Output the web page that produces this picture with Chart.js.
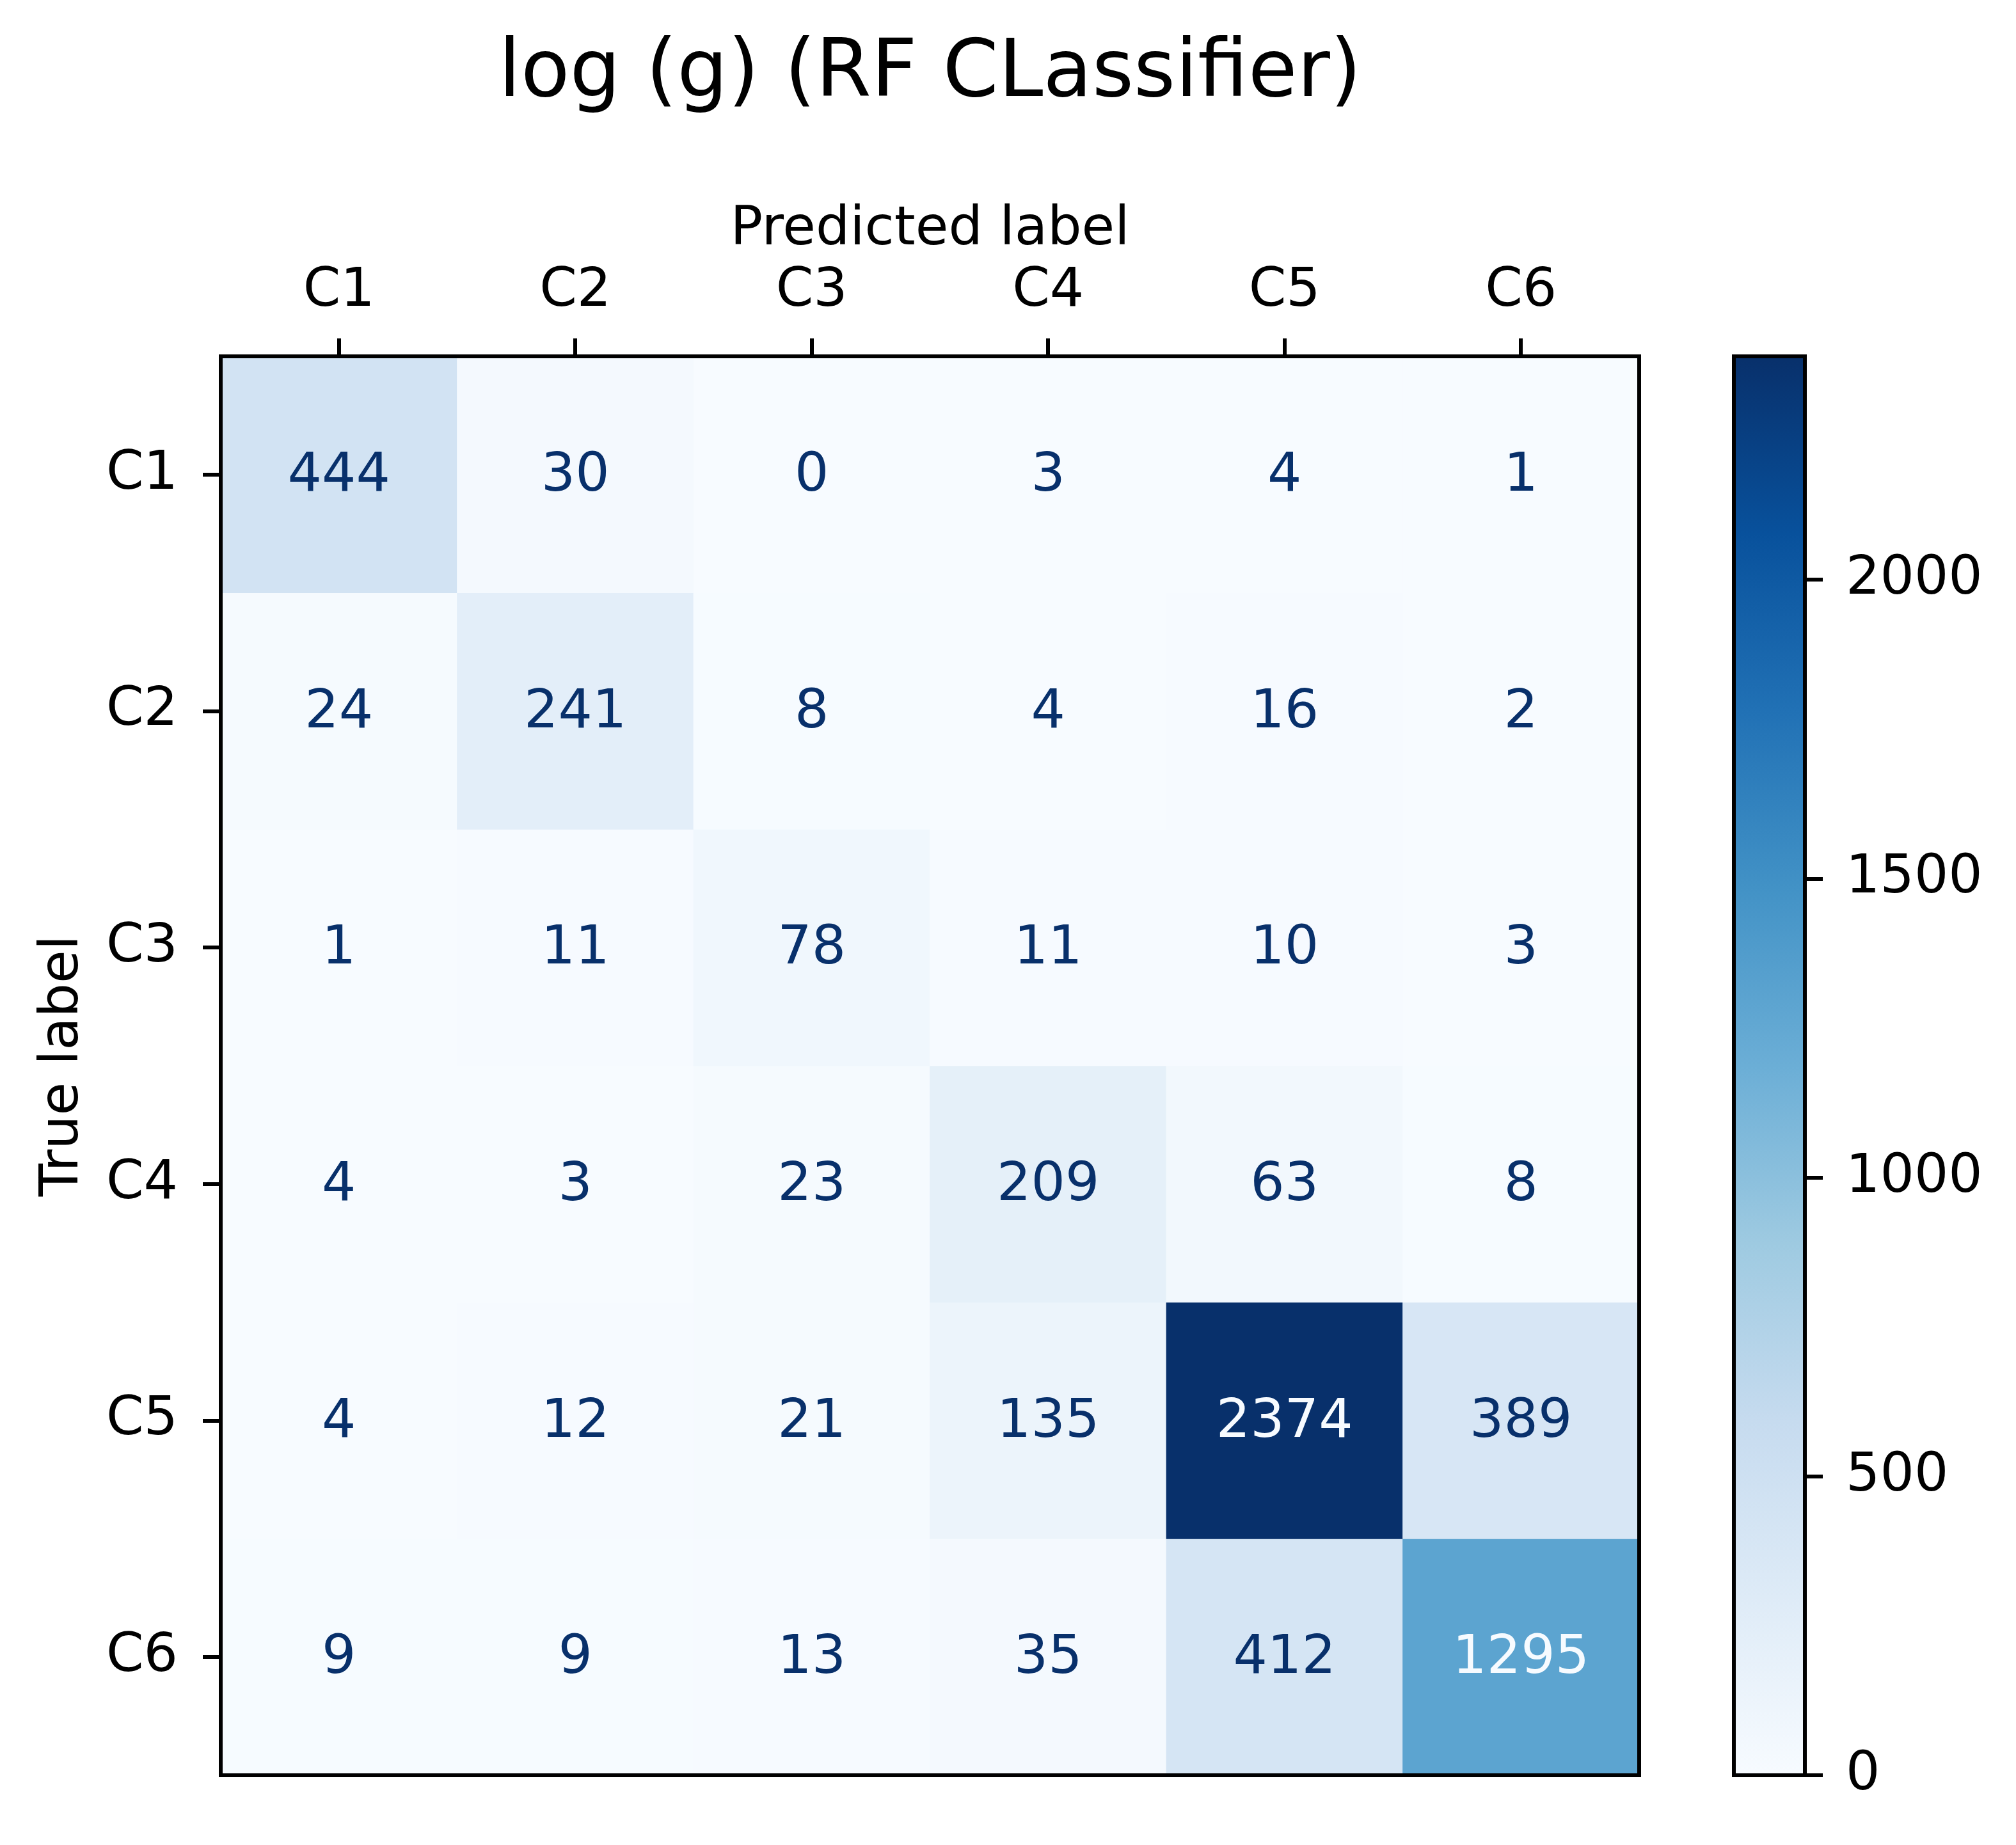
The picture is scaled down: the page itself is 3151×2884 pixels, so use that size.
<!DOCTYPE html>
<html>
<head>
<meta charset="utf-8">
<title>log (g) (RF CLassifier)</title>
<script src="https://cdn.jsdelivr.net/npm/chart.js@4.4.1/dist/chart.umd.min.js"></script>
<style>
  html, body { margin: 0; padding: 0; background: #fff; overflow: hidden; }
  canvas { position: absolute; left: 0; top: 0; }
</style>
</head>
<body>
<canvas id="matrix" width="3151" height="2884" style="width:3151px;height:2884px"></canvas>
<canvas id="colorbar" width="3151" height="2884" style="width:3151px;height:2884px"></canvas>
<script>
  // confusion matrix, one array per true label
  const predictedLabels = ["C1", "C2", "C3", "C4", "C5", "C6"];
  const trueLabels = ["C1", "C2", "C3", "C4", "C5", "C6"];
  const rowC1 = [444, 30, 0, 3, 4, 1];
  const rowC2 = [24, 241, 8, 4, 16, 2];
  const rowC3 = [1, 11, 78, 11, 10, 3];
  const rowC4 = [4, 3, 23, 209, 63, 8];
  const rowC5 = [4, 12, 21, 135, 2374, 389];
  const rowC6 = [9, 9, 13, 35, 412, 1295];
  const matrixRows = [rowC1, rowC2, rowC3, rowC4, rowC5, rowC6];
  const colorbarTicks = [0, 500, 1000, 1500, 2000];

  // matplotlib "Blues"
  const bluesStops = ["#f7fbff", "#deebf7", "#c6dbef", "#9ecae1", "#6baed6",
    "#4292c6", "#2171b5", "#08519c", "#08306b"];

  const FONT = "'DejaVu Sans', sans-serif";
  const TEXT_SIZE = 84;
  const LINE = 6;

  Chart.defaults.font.family = FONT;
  Chart.defaults.color = "#000";

  const allValues = matrixRows.flat();
  const vmin = Math.min(...allValues);
  const vmax = Math.max(...allValues);
  const thresh = (vmax + vmin) / 2;

  function hexToRgb(hex) {
    const n = parseInt(hex.slice(1), 16);
    return [(n >> 16) & 255, (n >> 8) & 255, n & 255];
  }

  function blues(t) {
    const clamped = Math.min(1, Math.max(0, t));
    const pos = clamped * (bluesStops.length - 1);
    const i = Math.min(bluesStops.length - 2, Math.floor(pos));
    const f = pos - i;
    const a = hexToRgb(bluesStops[i]);
    const b = hexToRgb(bluesStops[i + 1]);
    const rgb = a.map((c, k) => Math.round(c + (b[k] - c) * f));
    return `rgb(${rgb[0]}, ${rgb[1]}, ${rgb[2]})`;
  }

  function tickGrid() {
    return {
      display: true,
      offset: false,
      drawOnChartArea: false,
      drawTicks: true,
      tickLength: 28,
      tickWidth: LINE,
      lineWidth: LINE,
      tickColor: "#000",
    };
  }

  const frameBox = {
    id: "frameBox",
    afterDraw(chart) {
      const { ctx, chartArea } = chart;
      ctx.save();
      ctx.strokeStyle = "#000";
      ctx.lineWidth = LINE;
      ctx.strokeRect(chartArea.left, chartArea.top,
        chartArea.right - chartArea.left, chartArea.bottom - chartArea.top);
      ctx.restore();
    },
  };

  const cellText = {
    id: "cellText",
    afterDatasetsDraw(chart) {
      const { ctx } = chart;
      ctx.save();
      ctx.font = `${TEXT_SIZE}px ${FONT}`;
      ctx.textAlign = "center";
      ctx.textBaseline = "alphabetic";
      chart.data.datasets.forEach((dataset, r) => {
        chart.getDatasetMeta(r).data.forEach((bar, c) => {
          const value = dataset.values[c];
          const { x, y } = bar.getCenterPoint();
          ctx.fillStyle = value < thresh ? bluesStops[bluesStops.length - 1] : bluesStops[0];
          ctx.fillText(String(value), x, y + TEXT_SIZE * 0.3);
        });
      });
      ctx.restore();
    },
  };

  new Chart(document.getElementById("matrix"), {
    type: "bar",
    data: {
      labels: predictedLabels,
      datasets: matrixRows.map((row, r) => ({
        label: trueLabels[r],
        data: row.map(() => 1),
        values: row,
        backgroundColor: row.map((v) => blues((v - vmin) / (vmax - vmin))),
        borderWidth: 0,
        categoryPercentage: 1,
        barPercentage: 1,
      })),
    },
    options: {
      responsive: false,
      devicePixelRatio: 1,
      animation: false,
      events: [],
      layout: { padding: { left: 0, top: 0, right: 589, bottom: 109 } },
      plugins: {
        legend: { display: false },
        tooltip: { enabled: false },
        title: {
          display: true,
          text: "log (g) (RF CLassifier)",
          fullSize: false,
          color: "#000",
          font: { size: 125, weight: "normal", lineHeight: 1.2 },
          padding: { top: 43, bottom: 116.6 },
        },
      },
      scales: {
        x: {
          type: "category",
          position: "top",
          stacked: true,
          offset: true,
          grid: tickGrid(),
          border: { display: false },
          ticks: { font: { size: TEXT_SIZE, lineHeight: 1.2 }, padding: 22, maxRotation: 0, autoSkip: false },
          title: {
            display: true,
            text: "Predicted label",
            font: { size: TEXT_SIZE, lineHeight: 1.2 },
            padding: { top: 0, bottom: 0 },
          },
          afterFit(scale) {
            scale.height = 247.4;
          },
        },
        y: {
          type: "linear",
          min: 0,
          max: trueLabels.length,
          reverse: true,
          stacked: true,
          grid: tickGrid(),
          border: { display: false },
          ticks: {
            font: { size: TEXT_SIZE, lineHeight: 1.2 },
            padding: 39,
            callback(value, index) {
              return trueLabels[index];
            },
          },
          title: {
            display: true,
            text: "True label",
            font: { size: TEXT_SIZE, lineHeight: 1.2 },
            padding: { top: 48.6, bottom: 0 },
          },
          afterBuildTicks(scale) {
            scale.ticks = trueLabels.map((_, i) => ({ value: i + 0.5 }));
          },
          afterFit(scale) {
            scale.width = 345;
          },
        },
      },
    },
    plugins: [cellText, frameBox],
  });

  new Chart(document.getElementById("colorbar"), {
    type: "bar",
    data: {
      labels: ["colorbar"],
      datasets: [{
        data: [[vmin, vmax]],
        backgroundColor(context) {
          const chart = context.chart;
          if (!chart.chartArea) return bluesStops[0];
          const ys = chart.scales.y;
          const gradient = chart.ctx.createLinearGradient(
            0, ys.getPixelForValue(vmin), 0, ys.getPixelForValue(vmax));
          bluesStops.forEach((color, i) => gradient.addColorStop(i / (bluesStops.length - 1), color));
          return gradient;
        },
        borderWidth: 0,
        categoryPercentage: 1,
        barPercentage: 1,
      }],
    },
    options: {
      responsive: false,
      devicePixelRatio: 1,
      animation: false,
      events: [],
      layout: { padding: { left: 2710, top: 557, right: 0, bottom: 109 } },
      plugins: {
        legend: { display: false },
        tooltip: { enabled: false },
      },
      scales: {
        x: { display: false },
        y: {
          type: "linear",
          position: "right",
          min: vmin,
          max: vmax,
          grid: tickGrid(),
          border: { display: false },
          ticks: {
            font: { size: TEXT_SIZE, lineHeight: 1.2 },
            padding: 36,
            callback(value) {
              return String(value);
            },
          },
          afterBuildTicks(scale) {
            scale.ticks = colorbarTicks.map((v) => ({ value: v }));
          },
          afterFit(scale) {
            scale.width = 330;
          },
        },
      },
    },
    plugins: [frameBox],
  });
</script>
</body>
</html>
